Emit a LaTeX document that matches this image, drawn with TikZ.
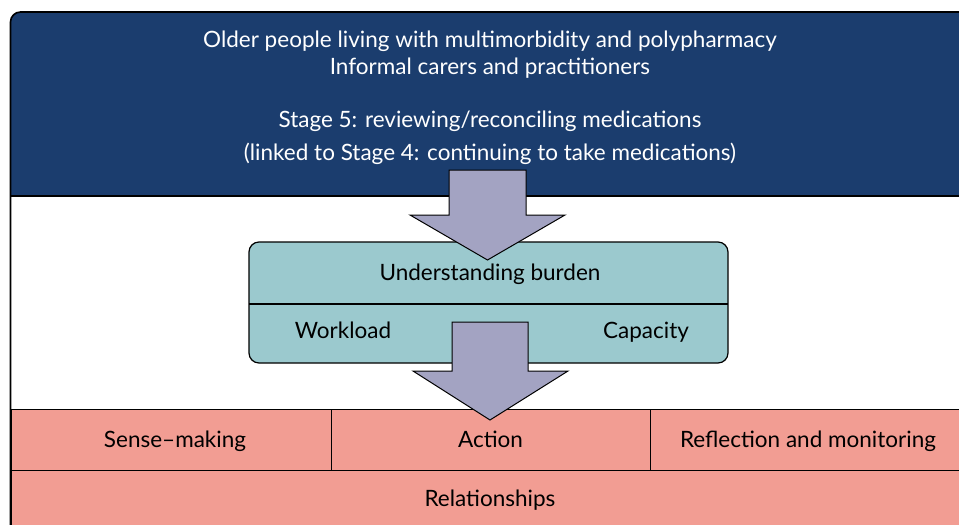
\documentclass[tikz,border=0pt]{standalone}
\usepackage{fontspec}
\setmainfont{Lato}
\definecolor{navy}{RGB}{27,61,110}
\definecolor{teal}{RGB}{155,201,206}
\definecolor{salmon}{RGB}{242,157,147}
\definecolor{lilac}{RGB}{163,163,194}
\begin{document}
\begin{tikzpicture}[x=1pt,y=-1pt,
  lbl/.style={inner sep=0pt, anchor=base, font=\fontsize{22.5}{26}\selectfont},
  wlbl/.style={lbl, text=white},
  cell/.style={draw=black, line width=1.2pt, fill=salmon, inner sep=0pt, anchor=north west},
  blockarrow/.style={draw=black, line width=1pt, fill=lilac, line join=miter}]
\useasboundingbox (0,0) rectangle (959,525);
\begin{scope}
\clip (0,0) rectangle (959,525);
% white background region
\fill[white] (10.5,196) rectangle (975,409);
% blue top panel
\fill[navy] [rounded corners=10pt] (10.5,196) -- (10.5,12) -- (975,12) [sharp corners] -- (975,196) -- cycle;
\draw[line width=1.2pt] (10.5,196) -- (975,196);
% pink rows
\node[cell, minimum width=320.5pt, minimum height=61pt] (sm) at (10.5,409) {};
\node[cell, minimum width=319pt, minimum height=61pt] (ac) at (331,409) {};
\node[cell, minimum width=320pt, minimum height=61pt] (rm) at (650,409) {};
\node[cell, minimum width=964.5pt, minimum height=70pt] (rel) at (10.5,470) {};
% outer frame
\draw[line width=1.6pt, rounded corners=10pt] (10.5,540) -- (10.5,12) -- (975,12) -- (975,540);
% teal box
\draw[line width=1.2pt, fill=teal, rounded corners=10pt] (249,242) rectangle (728,363);
\coordinate (ubl) at (249,304);
\coordinate (ubr) at (728,304);
\draw[line width=1.2pt] (ubl) -- (ubr);
% arrows
\draw[blockarrow] (449,170) -- (526,170) -- (526,215) -- (565,215) -- (487.5,260) -- (410,215) -- (449,215) -- cycle;
\draw[blockarrow] (452,322) -- (528,322) -- (528,371) -- (568,371) -- (490,420) -- (413,371) -- (452,371) -- cycle;
% labels
\node[wlbl] (t1) at (490,47) {Older people living with multimorbidity and polypharmacy};
\node[wlbl] (t2) at (490,74) {Informal carers and practitioners};
\node[wlbl] (t3) at (490,127) {Stage 5: reviewing/reconciling medications};
\node[wlbl] (t4) at (490,160) {(linked to Stage 4: continuing to take medications)};
\node[lbl] (ub) at (490,280) {Understanding burden};
\node[lbl] (wl) at (343,338) {Workload};
\node[lbl] (cp) at (646,338) {Capacity};
\node[lbl] (smt) at (175,447) {Sense–making};
\node[lbl] (act) at (490.5,447) {Action};
\node[lbl] (rmt) at (808,447) {Reflection and monitoring};
\node[lbl] (relt) at (490,506) {Relationships};
\end{scope}
\end{tikzpicture}
\end{document}
